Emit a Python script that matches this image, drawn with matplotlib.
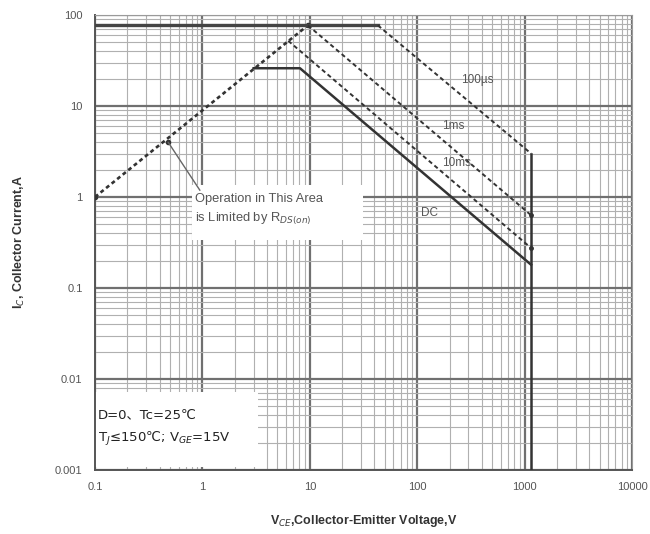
import matplotlib
matplotlib.use("Agg")
import matplotlib.pyplot as plt
from matplotlib.patches import Rectangle
from matplotlib.ticker import LogLocator, FixedLocator, NullFormatter

plt.rcParams['font.family'] = ['Liberation Sans Narrow', 'Liberation Sans', 'DejaVu Sans']

# Safe operating area limits (V, A)
rds_v = [0.1, 0.48, 9.6]
rds_i = [1.0, 4.0, 77]

top_v = [0.1, 43]
top_i = [77, 77]

us100_v = [43, 1150]
us100_i = [77, 3.0]

ms1_v = [9.6, 1150]
ms1_i = [77, 0.63]

ms10_v = [6.3, 1150]
ms10_i = [52, 0.275]

dc_v = [3.0, 8.1, 1150]
dc_i = [26, 26, 0.18]

vmax_v = [1150, 1150]
vmax_i = [3.0, 0.001]

curve_labels = ["100µs", "1ms", "10ms", "DC"]
label_v = [360, 215, 234, 131]
label_i = [19.3, 6.0, 2.37, 0.67]

x_ticks = [0.1, 1, 10, 100, 1000, 10000]
x_ticklabels = ["0.1", "1", "10", "100", "1000", "10000"]
y_ticks = [0.001, 0.01, 0.1, 1, 10, 100]
y_ticklabels = ["0.001", "0.01", "0.1", "1", "10", "100"]

fig = plt.figure(figsize=(6.5, 5.34), dpi=100)
ax = fig.add_axes([95/650, 64/534, 537/650, 455/534])
ax.set_xscale("log")
ax.set_yscale("log")
ax.set_xlim(0.1, 10000)
ax.set_ylim(0.001, 100)

# grid
ax.xaxis.set_major_locator(FixedLocator(x_ticks))
ax.yaxis.set_major_locator(FixedLocator(y_ticks))
ax.xaxis.set_minor_locator(LogLocator(base=10, subs=range(2, 10), numticks=20))
ax.yaxis.set_minor_locator(LogLocator(base=10, subs=range(2, 10), numticks=20))
ax.xaxis.set_minor_formatter(NullFormatter())
ax.yaxis.set_minor_formatter(NullFormatter())
ax.grid(which="major", color="#707070", lw=1.6)
ax.grid(which="minor", color="#b0b0b0", lw=0.8)
ax.set_axisbelow(True)
ax.tick_params(which="both", length=0)
ax.set_xticklabels(x_ticklabels, fontsize=8, color="#555555")
ax.set_yticklabels(y_ticklabels, fontsize=8, color="#555555")
ax.tick_params(axis="x", pad=9)
ax.tick_params(axis="y", pad=9)
for s in ["top", "right"]:
    ax.spines[s].set_color("#9a9a9a")
for s in ["left", "bottom"]:
    ax.spines[s].set_color("#555555")
    ax.spines[s].set_linewidth(1.4)

# white panels behind the notes
ax.add_patch(Rectangle((0.8, 0.337), 31 - 0.8, 1.36 - 0.337, fc="white", ec="none", zorder=1))
ax.add_patch(Rectangle((0.1, 0.00108), 3.3 - 0.1, 0.0072 - 0.00108, fc="white", ec="none", zorder=1))

dark = "#333333"
dash = (0, (2.2, 1.6))

ax.plot(rds_v[::2], rds_i[::2], color=dark, lw=1.9, ls=(0, (1.5, 1.2)), zorder=3)
ax.plot(rds_v, rds_i, ls="none", marker="o", ms=3, color=dark, zorder=3)
ax.plot(top_v, top_i, color="#444444", lw=2.4, zorder=3)
ax.plot(us100_v, us100_i, color=dark, lw=1.4, ls=dash, zorder=3)
ax.plot(ms1_v, ms1_i, color=dark, lw=1.4, ls=dash, marker="o", ms=2.5, markevery=[1], zorder=3)
ax.plot(ms10_v, ms10_i, color=dark, lw=1.4, ls=dash, marker="o", ms=2.5, markevery=[1], zorder=3)
ax.plot(dc_v, dc_i, color=dark, lw=1.8, zorder=3)
ax.plot(vmax_v, vmax_i, color=dark, lw=1.8, zorder=3)

for txt, v, i in zip(curve_labels, label_v, label_i):
    ax.text(v, i, txt, fontsize=8.5, color="#555555", ha="center", va="center")

# R_DS(on) note with leader line
ax.annotate("Operation in This Area\nis Limited by R$_{DS(on)}$",
            xy=(0.48, 4.0), xytext=(0.86, 0.72), fontsize=9.3, color="#555555",
            ha="left", va="center", linespacing=1.5,
            arrowprops=dict(arrowstyle="-", color="#666666", lw=1.0,
                            shrinkA=0, shrinkB=0, relpos=(0.05, 1.0)), zorder=4)

ax.text(0.106, 0.0029, "D=0、Tc=25℃\nT$_J$≤150℃; V$_{GE}$=15V",
        fontsize=9.5, color="#222222", ha="left", va="center", linespacing=1.7,
        family=['Liberation Sans Narrow', 'DejaVu Sans', 'Noto Sans CJK SC'], zorder=4)

ax.set_xlabel("V$_{CE}$,Collector-Emitter Voltage,V", fontsize=9, fontweight="bold",
              color="#333333", labelpad=15)
ax.set_ylabel("I$_C$, Collector Current,A", fontsize=9, fontweight="bold",
              color="#333333", labelpad=20)

fig.savefig("out.png", dpi=100)
